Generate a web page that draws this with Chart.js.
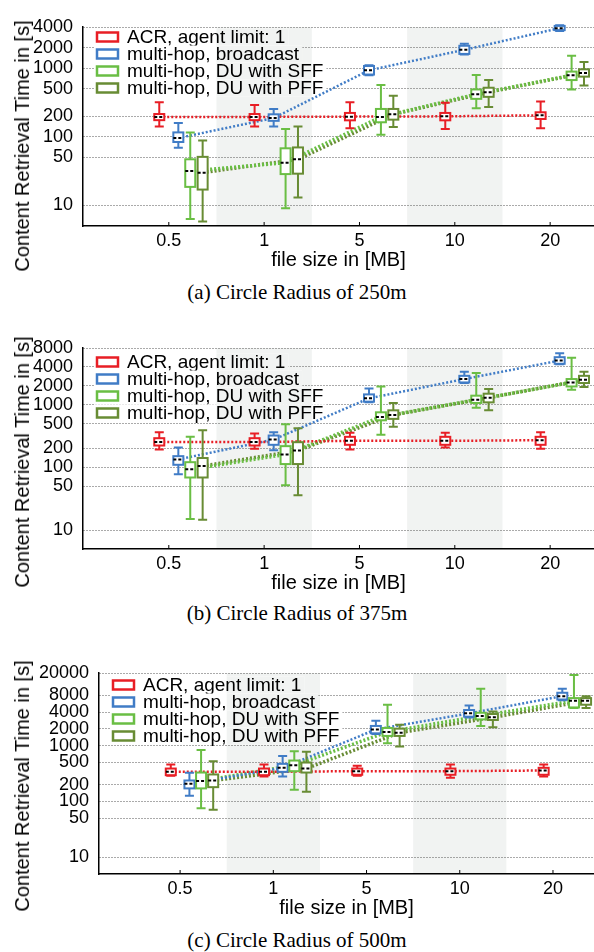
<!DOCTYPE html>
<html>
<head>
<meta charset="utf-8">
<script src="https://cdn.jsdelivr.net/npm/chart.js@4.4.1/dist/chart.umd.min.js"></script>
<style>
  html, body { margin: 0; padding: 0; background: #fff; }
  body { width: 594px; height: 952px; position: relative; overflow: hidden; font-family: 'Liberation Sans', Arial, sans-serif; }
  canvas { position: absolute; left: 0; }
  .ytitle { position: absolute; font-size: 20px; line-height: 20px; white-space: nowrap; color: #000;
            transform: translate(-50%, -50%) rotate(-90deg); }
  .caption { position: absolute; left: 0; width: 594px; text-align: center; color: #000;
             font-family: 'Liberation Serif', 'DejaVu Serif', serif; font-size: 21px; line-height: 24px; }
</style>
</head>
<body>
<canvas id="chart250" width="594" height="272" style="top:0px"></canvas>
<div class="ytitle" style="left:22px; top:146px">Content Retrieval Time in [s]</div>
<div class="caption" style="top:280px">(a) Circle Radius of 250m</div>

<canvas id="chart375" width="594" height="274" style="top:321px"></canvas>
<div class="ytitle" style="left:22px; top:462px">Content Retrieval Time in [s]</div>
<div class="caption" style="top:601px">(b) Circle Radius of 375m</div>

<canvas id="chart500" width="594" height="274" style="top:646px"></canvas>
<div class="ytitle" style="left:22px; top:786px">Content Retrieval Time in [s]</div>
<div class="caption" style="top:928px">(c) Circle Radius of 500m</div>

<script>
// --- DATA ---
// each entry: [min, q1, median, q3, max] per file size
const fileSizes = ['0.5', '1', '5', '10', '20'];
const seriesNames = ['ACR, agent limit: 1', 'multi-hop, broadcast', 'multi-hop, DU with SFF', 'multi-hop, DU with PFF'];

const acr250 = [[142, 175, 195, 215, 320], [142, 175, 195, 215, 292], [133, 174, 197, 223, 319], [130, 174, 199, 223, 313], [133, 182, 206, 228, 327]];
const broadcast250 = [[69, 84, 96, 116, 159], [142, 171, 188, 213, 255], [790, 810, 935, 1080, 1110], [1590, 1620, 1860, 2130, 2280], [3500, 3600, 3850, 4150, 4250]];
const sff250 = [[6.3, 18.6, 31.6, 47, 116], [9.1, 28.6, 42, 68, 130], [107, 163, 195, 255, 569], [261, 358, 419, 491, 797], [491, 673, 790, 894, 1517]];
const pff250 = [[5.8, 17, 30, 51, 88], [13, 29, 47, 70, 142], [139, 178, 213, 255, 397], [273, 383, 448, 520, 673], [562, 755, 853, 966, 1238]];

const acr375 = [[193, 223, 255, 292, 364], [198, 223, 253, 292, 347], [193, 229, 265, 307, 355], [208, 229, 265, 307, 355], [198, 229, 271, 307, 364]];
const broadcast375 = [[78, 110, 134, 151, 208], [188, 229, 278, 322, 364], [1088, 1116, 1260, 1457, 1815], [2210, 2260, 2560, 2880, 3340], [4400, 4480, 5050, 5710, 6610]];
const sff375 = [[15, 69, 93, 121, 307], [52, 113, 161, 218, 487], [330, 563, 637, 755, 1950], [896, 1064, 1200, 1390, 3188], [1730, 1950, 2260, 2560, 5570]];
const pff375 = [[14.6, 69, 105, 141, 391], [36, 113, 186, 252, 421], [443, 593, 686, 812, 1064], [812, 1088, 1290, 1495, 1775], [1910, 2210, 2490, 2880, 3340]];

const acr500 = [[288, 295, 339, 388, 458], [279, 295, 339, 388, 458], [288, 300, 348, 388, 434], [265, 300, 348, 388, 458], [279, 300, 358, 400, 458]];
const broadcast500 = [[126, 171, 207, 237, 325], [279, 339, 400, 471, 654], [1617, 1660, 1950, 2250, 2795], [3200, 3300, 3780, 4340, 5250], [6500, 6700, 7700, 8850, 10400]];
const sff500 = [[75, 171, 231, 329, 838], [162, 348, 445, 540, 791], [1100, 1490, 1760, 2070, 5400], [2250, 2950, 3390, 3880, 10400], [4710, 4830, 6360, 7100, 18500]];
const pff500 = [[71, 180, 237, 304, 525], [149, 329, 388, 497, 772], [960, 1490, 1706, 2012, 2371], [2124, 2877, 3205, 3680, 4093], [4710, 5400, 6360, 7100, 7700]];

const yTicks250 = [10, 50, 100, 200, 500, 1000, 2000, 4000];
const yTicks375 = [10, 50, 100, 200, 500, 1000, 2000, 4000, 8000];
const yTicks500 = [10, 50, 100, 200, 500, 1000, 2000, 4000, 8000, 20000];

// --- STYLE ---
const seriesColors = ['#e81e25', '#407cc6', '#6abe44', '#688c34'];
const seriesOffset = [-0.1, 0.1, 0.225, 0.355];   // position inside a file size slot
const lineWidths = [2.5, 2.5, 3.5, 3.5];
const bandColor = '#f1f3f2';
const shadedSlots = [1, 3];

// gray bands behind file sizes 1 and 10
const bandPlugin = {
    id: 'bands',
    beforeDraw(chart) {
        const { ctx, chartArea, scales } = chart;
        ctx.save();
        ctx.fillStyle = bandColor;
        shadedSlots.forEach(i => {
            const x1 = scales.x.getPixelForValue(i - 0.5);
            const x2 = scales.x.getPixelForValue(i + 0.5);
            ctx.fillRect(x1, chartArea.top, x2 - x1, chartArea.bottom - chartArea.top);
        });
        ctx.restore();
    }
};

// legend inside the plot, hides the grid behind its text
const legendPlugin = {
    id: 'insideLegend',
    beforeDatasetsDraw(chart, args, opts) {
        const { ctx, chartArea, scales } = chart;
        ctx.save();
        ctx.font = '19px "Liberation Sans", Arial, sans-serif';
        ctx.textBaseline = 'middle';
        chart.data.datasets.forEach((ds, i) => {
            const cy = chartArea.top + opts.top + i * 17;
            const x0 = chartArea.left + 14;
            const tx = x0 + 30;
            const x1 = x0 - 3;
            const x2 = tx + ctx.measureText(ds.label).width + 3;
            ctx.fillStyle = '#fff';
            ctx.fillRect(x1, cy - 8.5, x2 - x1, 17);
            ctx.fillStyle = bandColor;
            shadedSlots.forEach(s => {
                const b1 = Math.max(x1, scales.x.getPixelForValue(s - 0.5));
                const b2 = Math.min(x2, scales.x.getPixelForValue(s + 0.5));
                if (b2 > b1) ctx.fillRect(b1, cy - 8.5, b2 - b1, 17);
            });
            ctx.fillStyle = '#fff';
            ctx.fillRect(x0, cy - 4.5, 21, 9);
            ctx.strokeStyle = ds.borderColor;
            ctx.lineWidth = 2.5;
            ctx.strokeRect(x0, cy - 4.5, 21, 9);
            ctx.fillStyle = '#000';
            ctx.fillText(ds.label, tx, cy + 1);
        });
        ctx.restore();
    }
};

// box plots + inward x ticks
const boxPlugin = {
    id: 'boxPlots',
    afterDatasetsDraw(chart) {
        const { ctx, chartArea, scales } = chart;
        const xs = scales.x, ys = scales.y;
        ctx.save();
        chart.data.datasets.forEach((ds, si) => {
            ds.boxStats.forEach((s, ci) => {
                const cx = xs.getPixelForValue(ci + seriesOffset[si]);
                const [lo, q1, med, q3, hi] = s.map(v => ys.getPixelForValue(v));
                ctx.strokeStyle = ds.borderColor;
                ctx.lineWidth = 2;
                ctx.setLineDash([]);
                ctx.beginPath();
                ctx.moveTo(cx, hi); ctx.lineTo(cx, lo);
                ctx.moveTo(cx - 4.5, hi); ctx.lineTo(cx + 4.5, hi);
                ctx.moveTo(cx - 4.5, lo); ctx.lineTo(cx + 4.5, lo);
                ctx.stroke();
                ctx.fillStyle = '#fff';
                ctx.fillRect(cx - 5, q3, 10, q1 - q3);
                ctx.strokeRect(cx - 5, q3, 10, q1 - q3);
                ctx.strokeStyle = '#000';
                ctx.setLineDash([3, 2]);
                ctx.beginPath();
                ctx.moveTo(cx - 5, med); ctx.lineTo(cx + 5, med);
                ctx.stroke();
            });
        });
        ctx.setLineDash([]);
        ctx.strokeStyle = '#000';
        ctx.lineWidth = 1;
        fileSizes.forEach((_, i) => {
            const x = xs.getPixelForValue(i);
            ctx.beginPath();
            ctx.moveTo(x, chartArea.bottom); ctx.lineTo(x, chartArea.bottom - 4);
            ctx.stroke();
        });
        ctx.restore();
    }
};

function makeChart(canvasId, seriesStats, yMax, yTicks, yWidth, xMin, xMax, legendTop) {
    const datasets = seriesStats.map((stats, si) => ({
        label: seriesNames[si],
        data: stats.map((s, ci) => ({ x: ci + seriesOffset[si], y: s[2] })),
        boxStats: stats,
        borderColor: seriesColors[si],
        backgroundColor: seriesColors[si],
        borderWidth: lineWidths[si],
        borderDash: [2, 2],
        pointRadius: 0,
        fill: false,
        tension: 0
    }));

    return new Chart(document.getElementById(canvasId), {
        type: 'line',
        data: { datasets },
        options: {
            responsive: false,
            animation: false,
            layout: { padding: { top: 27, right: 0, left: 0, bottom: 0 }, autoPadding: false },
            plugins: {
                legend: { display: false },
                tooltip: { enabled: false },
                insideLegend: { top: legendTop }
            },
            scales: {
                x: {
                    type: 'linear',
                    min: xMin,
                    max: xMax,
                    afterBuildTicks: (scale) => { scale.ticks = fileSizes.map((_, i) => ({ value: i })); },
                    afterFit: (scale) => { scale.height = 46; },
                    ticks: {
                        callback: (v) => fileSizes[v],
                        color: '#000',
                        font: { family: 'Liberation Sans', size: 18 },
                        padding: 4,
                        maxRotation: 0,
                        autoSkip: false
                    },
                    grid: { display: false, drawTicks: false },
                    border: { display: true, color: '#000', width: 1.5 },
                    title: {
                        display: true,
                        text: 'file size in [MB]',
                        color: '#000',
                        font: { family: 'Liberation Sans', size: 20 },
                        padding: { top: 0, bottom: 0 }
                    }
                },
                y: {
                    type: 'logarithmic',
                    min: 5,
                    max: yMax,
                    afterBuildTicks: (scale) => { scale.ticks = yTicks.map(v => ({ value: v })); },
                    afterFit: (scale) => { scale.width = yWidth; },
                    ticks: {
                        callback: (v) => String(v),
                        color: '#000',
                        font: { family: 'Liberation Sans', size: 18 },
                        padding: 10,
                        autoSkip: false
                    },
                    grid: { color: '#555', lineWidth: 1, drawTicks: false },
                    border: { display: true, color: '#000', width: 1.5, dash: [1, 2] }
                }
            }
        },
        plugins: [bandPlugin, legendPlugin, boxPlugin]
    });
}

document.addEventListener('DOMContentLoaded', () => {
    makeChart('chart250', [acr250, broadcast250, sff250, pff250], 4000, yTicks250, 83, -0.9, 4.46, 10);
    makeChart('chart375', [acr375, broadcast375, sff375, pff375], 8000, yTicks375, 83, -0.9, 4.46, 14);
    makeChart('chart500', [acr500, broadcast500, sff500, pff500], 20000, yTicks500, 99, -0.87, 4.44, 12);
});
</script>
</body>
</html>
